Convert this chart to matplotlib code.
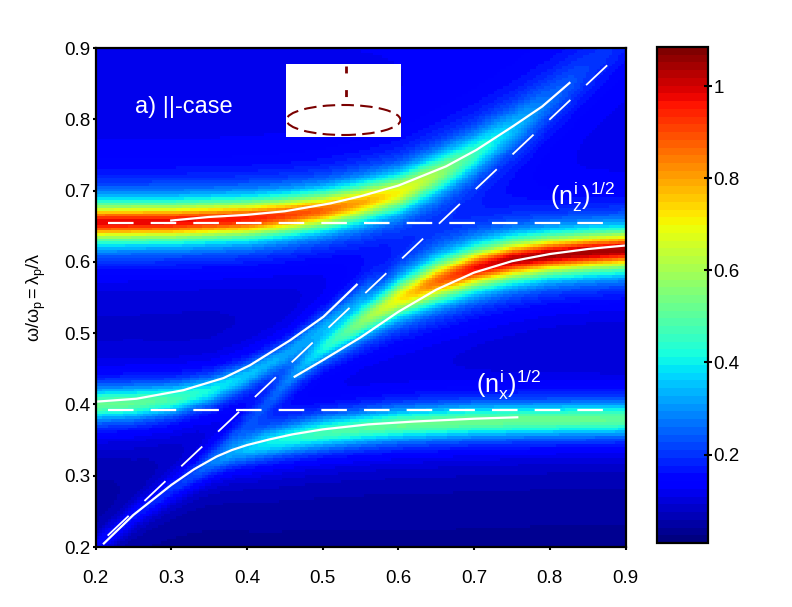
import numpy as np
import matplotlib
matplotlib.use("Agg")
import matplotlib.pyplot as plt
from matplotlib.patches import Ellipse

plt.rcParams['font.family'] = ['Liberation Sans', 'DejaVu Sans']
plt.rcParams['mathtext.fontset'] = 'custom'
plt.rcParams['mathtext.rm'] = 'Liberation Sans'
plt.rcParams['mathtext.it'] = 'Liberation Sans'
plt.rcParams['mathtext.bf'] = 'Liberation Sans:bold'

# ---------------- data ----------------
# band ridges of the intensity map: x, centre y, peak amplitude, half width
u_x = [0.20, 0.30, 0.40, 0.45, 0.50, 0.55, 0.60, 0.65, 0.70, 0.75, 0.80, 0.85, 0.90]
u_y = [0.655, 0.656, 0.660, 0.665, 0.672, 0.683, 0.697, 0.722, 0.752, 0.787, 0.826, 0.870, 0.915]
u_a = [0.90, 0.89, 0.87, 0.83, 0.78, 0.70, 0.60, 0.48, 0.35, 0.24, 0.15, 0.09, 0.06]
u_w = [0.027, 0.027, 0.027, 0.027, 0.027, 0.028, 0.029, 0.031, 0.033, 0.036, 0.040, 0.044, 0.048]

m1_x = [0.20, 0.25, 0.30, 0.35, 0.40, 0.45, 0.50, 0.55, 0.58]
m1_y = [0.399, 0.401, 0.406, 0.418, 0.440, 0.470, 0.510, 0.553, 0.585]
m1_a = [0.47, 0.46, 0.42, 0.35, 0.28, 0.23, 0.17, 0.09, 0.0]
m1_w = [0.026, 0.026, 0.025, 0.024, 0.023, 0.022, 0.022, 0.022, 0.022]

l_x = [0.20, 0.25, 0.30, 0.35, 0.38, 0.42, 0.46, 0.50, 0.55, 0.60, 0.70, 0.80, 0.90]
l_y = [0.200, 0.243, 0.281, 0.315, 0.330, 0.343, 0.352, 0.359, 0.365, 0.370, 0.375, 0.377, 0.378]
l_a = [0.12, 0.13, 0.15, 0.20, 0.25, 0.33, 0.38, 0.42, 0.44, 0.46, 0.47, 0.47, 0.46]
l_w = [0.018, 0.018, 0.020, 0.022, 0.024, 0.026, 0.026, 0.026, 0.026, 0.026, 0.026, 0.026, 0.026]

m2_x = [0.33, 0.38, 0.42, 0.46, 0.50, 0.55, 0.60, 0.65, 0.70, 0.75, 0.80, 0.85, 0.90]
m2_y = [0.310, 0.355, 0.395, 0.440, 0.478, 0.515, 0.548, 0.572, 0.590, 0.602, 0.609, 0.613, 0.616]
m2_a = [0.0, 0.07, 0.11, 0.18, 0.30, 0.47, 0.63, 0.78, 0.89, 0.95, 0.97, 0.97, 0.96]
m2_w = [0.020, 0.020, 0.020, 0.021, 0.023, 0.026, 0.029, 0.030, 0.029, 0.028, 0.027, 0.027, 0.027]

bg_y = [0.20, 0.55, 0.90]
bg_v = [0.030, 0.065, 0.120]

# white dispersion curves
cl_x = [0.211, 0.250, 0.300, 0.330, 0.360, 0.380, 0.400, 0.430, 0.460, 0.500, 0.560, 0.620, 0.700, 0.757]
cl_y = [0.205, 0.245, 0.287, 0.309, 0.327, 0.336, 0.343, 0.351, 0.358, 0.365, 0.372, 0.376, 0.380, 0.382]
cm1_x = [0.202, 0.254, 0.316, 0.369, 0.404, 0.457, 0.501, 0.545]
cm1_y = [0.404, 0.408, 0.420, 0.437, 0.455, 0.490, 0.523, 0.568]
cm2_x = [0.463, 0.50, 0.55, 0.60, 0.65, 0.70, 0.75, 0.80, 0.85, 0.90]
cm2_y = [0.439, 0.462, 0.494, 0.530, 0.561, 0.585, 0.601, 0.611, 0.618, 0.623]
cu_x = [0.30, 0.35, 0.40, 0.45, 0.51, 0.55, 0.60, 0.663, 0.703, 0.751, 0.79, 0.826]
cu_y = [0.658, 0.663, 0.666, 0.671, 0.682, 0.692, 0.707, 0.734, 0.757, 0.790, 0.818, 0.851]

# reference dashed lines
nz_level = 0.655
nx_level = 0.392
h_x = [0.217, 0.883]
diag_x = [0.216, 0.882]

xticks = [0.2, 0.3, 0.4, 0.5, 0.6, 0.7, 0.8, 0.9]
yticks = [0.2, 0.3, 0.4, 0.5, 0.6, 0.7, 0.8, 0.9]
cticks = [0.2, 0.4, 0.6, 0.8, 1.0]
cticklabels = ['0.2', '0.4', '0.6', '0.8', '1']
clim = (0.008, 1.085)

# ---------------- field ----------------
nx, ny = 180, 180
xg = np.linspace(0.2, 0.9, nx)
yg = np.linspace(0.2, 0.9, ny)
X, Y = np.meshgrid(xg, yg)

def band(bx, by, ba, bw):
    yc = np.interp(X, bx, by)
    a = np.interp(X, bx, ba)
    w = np.interp(X, bx, bw)
    return a / (1.0 + ((Y - yc) / w) ** 2) ** 1.2

Z = np.interp(Y, bg_y, bg_v)
for b in [(u_x, u_y, u_a, u_w), (m1_x, m1_y, m1_a, m1_w),
          (l_x, l_y, l_a, l_w), (m2_x, m2_y, m2_a, m2_w)]:
    Z = Z + band(*b)

# ---------------- figure ----------------
fig = plt.figure(figsize=(7.92, 6.07), dpi=100)
ax = fig.add_axes([0.1206, 0.0988, 0.6692, 0.8221])
cmap = plt.get_cmap('jet', 64)
im = ax.imshow(Z, origin='lower', extent=(0.2, 0.9, 0.2, 0.9), aspect='auto',
               cmap=cmap, vmin=clim[0], vmax=clim[1], interpolation='nearest')

wl = dict(color='white', lw=1.6)
ax.plot(cl_x, cl_y, **wl)
ax.plot(cm1_x, cm1_y, **wl)
ax.plot(cm2_x, cm2_y, **wl)
ax.plot(cu_x, cu_y, **wl)

ax.plot(h_x, [nz_level, nz_level], color='white', lw=1.6, dashes=(11.5, 7.7))
ax.plot(h_x, [nx_level, nx_level], color='white', lw=1.6, dashes=(11.5, 7.7))
ax.plot(diag_x, diag_x, color='white', lw=1.3, dashes=(16, 12))

ax.text(0.252, 0.8175, 'a) ||-case', color='white', fontsize=17, va='center', ha='left')
ax.text(0.80, 0.68, r'$(n_z^i)^{1/2}$', color='white', fontsize=18, ha='left', va='baseline')
ax.text(0.702, 0.416, r'$(n_x^i)^{1/2}$', color='white', fontsize=18, ha='left', va='baseline')

ax.set_xlim(0.2, 0.9)
ax.set_ylim(0.2, 0.9)
ax.set_xticks(xticks)
ax.set_yticks(yticks)
ax.set_xticklabels([f'{v:.1f}' for v in xticks])
ax.set_yticklabels([f'{v:.1f}' for v in yticks])
ax.tick_params(direction='out', length=2.5, width=1.5, labelsize=13.5)
ax.tick_params(axis='x', pad=14)
ax.tick_params(axis='y', pad=1)
for s in ax.spines.values():
    s.set_linewidth(1.6)
ax.set_ylabel(r'$\omega/\omega_p{=}\lambda_p/\lambda$', fontsize=13)
ax.yaxis.set_label_coords(-0.09, 0.5)

# colorbar
cax = fig.add_axes([0.8295, 0.1054, 0.0644, 0.8172])
cb = fig.colorbar(im, cax=cax, ticks=cticks)
cb.set_ticklabels(cticklabels)
cb.outline.set_linewidth(1.6)
cax.tick_params(direction='inout', length=6, width=1.5, labelsize=13.5, pad=1)

# inset sketch
iax = fig.add_axes([0.3607, 0.7748, 0.1452, 0.1198])
iax.set_xlim(0, 115)
iax.set_ylim(0, 72.7)
iax.set_facecolor('white')
for s in iax.spines.values():
    s.set_visible(False)
iax.set_xticks([])
iax.set_yticks([])
iax.add_patch(Ellipse((57.8, 16.7), 114, 30, fill=False, edgecolor='#7a0000',
                      lw=1.5, linestyle=(0, (6, 3))))
iax.plot([60, 60], [71, 39], color='#7a0000', lw=2, dashes=(2.5, 6))

fig.savefig('out.png', dpi=100)
